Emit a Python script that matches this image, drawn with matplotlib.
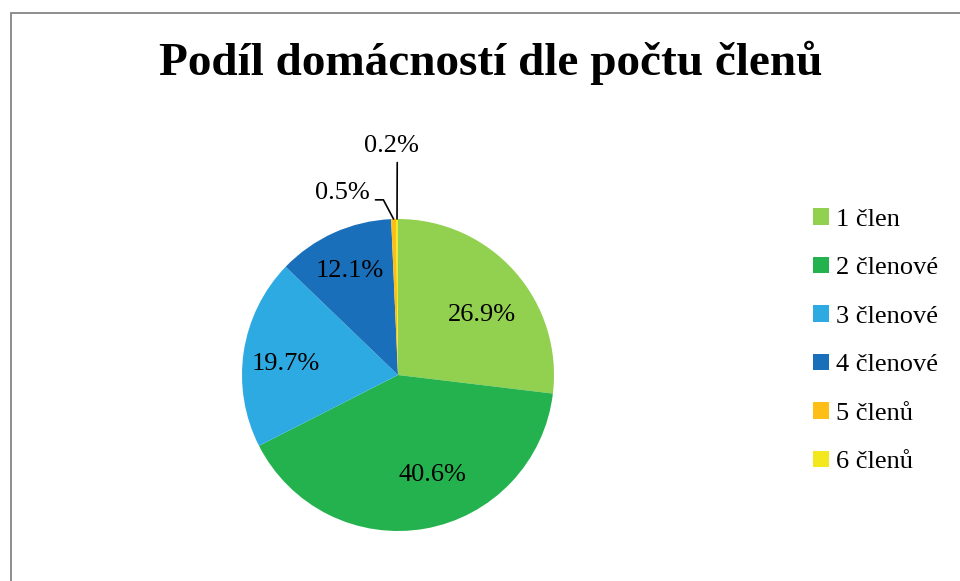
import numpy as np
import matplotlib
matplotlib.use("Agg")
import matplotlib.pyplot as plt
from matplotlib.patches import Rectangle

# data
categories = ["1 člen", "2 členové", "3 členové", "4 členové", "5 členů", "6 členů"]
shares = [26.9, 40.6, 19.7, 12.1, 0.5, 0.2]
colors = ["#92D050", "#23B24E", "#2DAAE2", "#1A6FBB", "#FDBE16", "#F2E81D"]

plt.rcParams["font.family"] = ["Liberation Serif", "DejaVu Serif"]

fig = plt.figure(figsize=(9.6, 5.81), dpi=100)
W, H = 960, 581

# outer grey frame (runs off the right and bottom edges)
fig.patches.append(Rectangle((11 / W, -0.05), 1.1, 1 - 13 / H + 0.05,
                             transform=fig.transFigure, fill=False,
                             edgecolor="#858585", linewidth=1.3))

fig.text(491 / W, 1 - 63 / H, "Podíl domácností dle počtu členů",
         ha="center", va="center", fontsize=34, fontweight="bold")

cx, cy, r = 398, 375, 156
ax = fig.add_axes([(cx - r) / W, (H - cy - r) / H, 2 * r / W, 2 * r / H])
wedges, _ = ax.pie(shares, colors=colors, startangle=90, counterclock=False,
                   wedgeprops=dict(linewidth=0))
ax.set_xlim(-1, 1)
ax.set_ylim(-1, 1)
ax.set_aspect("equal")
ax.axis("off")

# labels inside the big slices (distance from centre, angle nudge in degrees)
dists = [0.66, 0.68, 0.72, 0.735]
nudge = [-6, 9, 3, 0.5]
for w, val, d, dn in zip(wedges[:4], shares[:4], dists, nudge):
    ang = np.deg2rad((w.theta1 + w.theta2) / 2 + dn)
    ax.text(d * np.cos(ang), d * np.sin(ang), f"{val}%", ha="center",
            va="center", fontsize=19)

# small slices with leader lines
w5, w6 = wedges[4], wedges[5]
a5 = np.deg2rad((w5.theta1 + w5.theta2) / 2)
ax.annotate(f"{shares[4]}%", xy=(np.cos(a5), np.sin(a5)), xytext=(-0.18, 1.165),
            ha="right", va="center", fontsize=19,
            arrowprops=dict(arrowstyle="-", color="black", lw=1.2,
                            shrinkA=2, shrinkB=0, relpos=(1.0, 0.2),
                            connectionstyle="angle,angleA=0,angleB=118,rad=0"))
a6 = np.deg2rad((w6.theta1 + w6.theta2) / 2)
ax.annotate(f"{shares[5]}%", xy=(np.cos(a6), np.sin(a6)), xytext=(-0.04, 1.468),
            ha="center", va="center", fontsize=19,
            arrowprops=dict(arrowstyle="-", color="black", lw=1.2,
                            shrinkA=2, shrinkB=0, relpos=(0.6, 0.0)))

leg = fig.legend(wedges, categories, loc="upper left",
                 bbox_to_anchor=(813 / W, 1 - 208 / H), frameon=False,
                 fontsize=19, handlelength=0.6, handleheight=0.6,
                 handletextpad=0.27, labelspacing=0.98, borderpad=0,
                 borderaxespad=0)

fig.savefig("out.png", dpi=100)
